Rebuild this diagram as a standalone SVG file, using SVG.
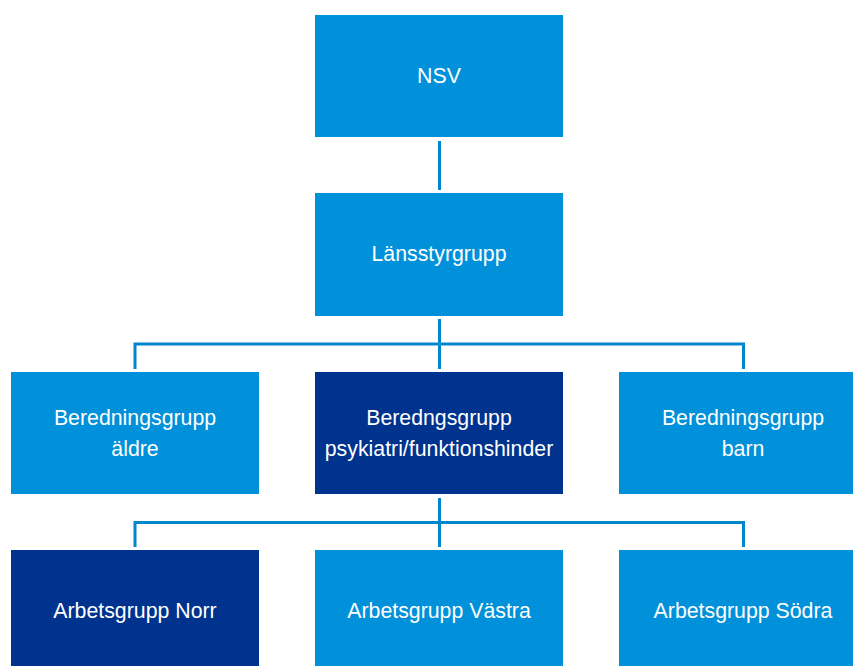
<svg xmlns="http://www.w3.org/2000/svg" width="853" height="666" viewBox="0 0 853 666">
<style>
.box{fill:#0091DA}
.dark{fill:#00338D}
.t{font-family:"Liberation Sans",Arial,sans-serif;font-size:21.3px;fill:#FFFFFF;text-anchor:middle}
.c{stroke:#0086CC;stroke-width:3;fill:none}
</style>
<rect width="853" height="666" fill="#FFFFFF"/>
<g id="connectors">
<line class="c" x1="439.5" y1="141" x2="439.5" y2="190"/>
<line class="c" x1="439.5" y1="319" x2="439.5" y2="369"/>
<polyline class="c" points="135,369 135,344 743.5,344 743.5,369"/>
<line class="c" x1="439.5" y1="498" x2="439.5" y2="547"/>
<polyline class="c" points="135,547 135,522.5 743.5,522.5 743.5,547"/>
</g>
<g id="nsv"><rect class="box" x="315" y="15" width="248" height="122"/><text class="t" x="439" y="83">NSV</text></g>
<g id="lansstyrgrupp"><rect class="box" x="315" y="193" width="248" height="123"/><text class="t" x="439" y="261">Länsstyrgrupp</text></g>
<g id="bg-aldre"><rect class="box" x="11" y="372" width="248" height="122"/><text class="t" x="135" y="425">Beredningsgrupp</text><text class="t" x="135" y="456">äldre</text></g>
<g id="bg-psykiatri"><rect class="dark" x="315" y="372" width="248" height="122"/><text class="t" x="439" y="425">Beredngsgrupp</text><text class="t" x="439" y="456">psykiatri/funktionshinder</text></g>
<g id="bg-barn"><rect class="box" x="619" y="372" width="248" height="122"/><text class="t" x="743" y="425">Beredningsgrupp</text><text class="t" x="743" y="456">barn</text></g>
<g id="ag-norr"><rect class="dark" x="11" y="550" width="248" height="123"/><text class="t" x="135" y="618">Arbetsgrupp Norr</text></g>
<g id="ag-vastra"><rect class="box" x="315" y="550" width="248" height="123"/><text class="t" x="439" y="618">Arbetsgrupp Västra</text></g>
<g id="ag-sodra"><rect class="box" x="619" y="550" width="248" height="123"/><text class="t" x="743" y="618">Arbetsgrupp Södra</text></g>
</svg>
